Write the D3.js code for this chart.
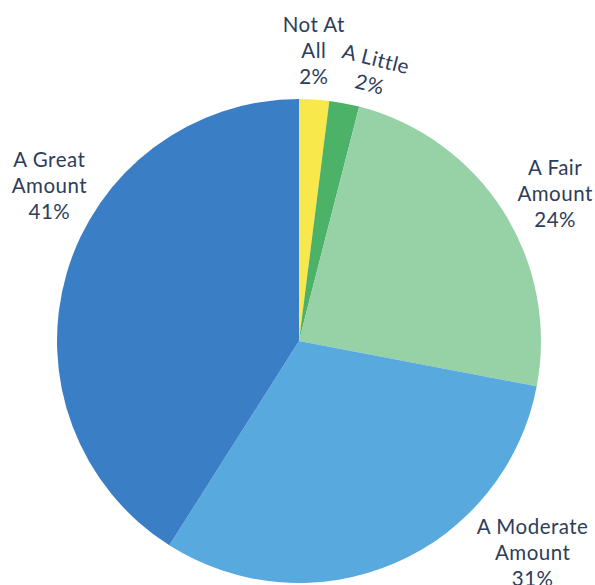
<!DOCTYPE html>
<html>
<head>
<meta charset="utf-8">
<script src="https://cdn.jsdelivr.net/npm/d3@7"></script>
<style>
  body { margin: 0; background: #fff; }
  text { font-family: Lato, 'Open Sans', sans-serif; font-size: 20.5px; letter-spacing: 0.5px; fill: #2d3d5a; }
</style>
</head>
<body>
<div id="chart"></div>
<script>
/* globals d3 */

let categories = ['Not At All', 'A Little', 'A Fair Amount', 'A Moderate Amount', 'A Great Amount']
let values = [2, 2, 24, 31, 41]
let labelLines = [['Not At', 'All', '2%'], ['A Little', '2%'], ['A Fair', 'Amount', '24%'], ['A Moderate', 'Amount', '31%'], ['A Great', 'Amount', '41%']]
let colors = ['#f8e84b', '#4cb267', '#97d2a7', '#58a9de', '#3a7fc5']

// where each label sits: angle (deg, clockwise from top), distance from centre, tilt
let labelAngle = [3.0, 15.3, 61.3, 133.1, 300.6]
let labelRadius = [283, 285, 292, 320, 290]
let labelTilt = [0, 14, 0, 0, 0]
let labelFirst = [1, 0, 1, 1, 1] // which line sits on the anchor

const width = 595
const height = 585
const cx = 299
const cy = 341
const r = 242

function main () {
  let svg = d3.select('#chart').append('svg').attr('width', width).attr('height', height)
  let g = svg.append('g').attr('transform', `translate(${cx},${cy})`)

  let pie = d3.pie().sort(null).value((d) => d)
  let arc = d3.arc().innerRadius(0).outerRadius(r)
  let arcs = pie(values)

  g.selectAll('path')
    .data(arcs)
    .enter().append('path')
      .attr('d', arc)
      .attr('fill', (d, i) => colors[i])

  let rad = d3.scaleLinear().domain([0, 360]).range([0, 2 * Math.PI])

  let labels = g.selectAll('g.label')
    .data(categories)
    .enter().append('g')
      .attr('class', 'label')
      .attr('transform', (d, i) => {
        let a = rad(labelAngle[i])
        let x = Math.sin(a) * labelRadius[i]
        let y = -Math.cos(a) * labelRadius[i]
        return `translate(${x},${y}) rotate(${labelTilt[i]})`
      })

  labels.each(function (d, i) {
    let t = d3.select(this).append('text').attr('text-anchor', 'middle')
    labelLines[i].forEach((line, j) => {
      t.append('tspan')
        .attr('x', 0)
        .attr('y', (j - labelFirst[i]) * 26)
        .text(line)
    })
  })
}

main()
</script>
</body>
</html>
